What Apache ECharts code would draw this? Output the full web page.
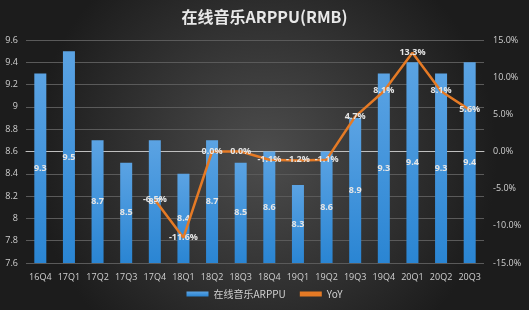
<!DOCTYPE html>
<html><head><meta charset="utf-8">
<script src="https://cdn.jsdelivr.net/npm/echarts@6/dist/echarts.min.js"></script>
<style>html,body{margin:0;padding:0;background:#222}#c{width:529px;height:310px}</style>
</head><body><div id="c"></div>
<script>
const categories = ['16Q4','17Q1','17Q2','17Q3','17Q4','18Q1','18Q2','18Q3','18Q4','19Q1','19Q2','19Q3','19Q4','20Q1','20Q2','20Q3'];
const arppu = [9.3,9.5,8.7,8.5,8.7,8.4,8.7,8.5,8.6,8.3,8.6,8.9,9.3,9.4,9.3,9.4];
const yoy = [null,null,null,null,-0.065,-0.116,0.0,0.0,-0.011,-0.012,-0.011,0.047,0.081,0.133,0.081,0.056];
const leftTicks = {min:7.6,max:9.6,interval:0.2};
const rightTicks = {min:-0.15,max:0.15,interval:0.05};
const font = '"Open Sans","Noto Sans CJK SC",sans-serif';
const chart = echarts.init(document.getElementById('c'));
chart.setOption({
  backgroundColor:{type:'radial',x:0.5,y:0.5,r:0.75,colorStops:[{offset:0,color:'#4d4d4d'},{offset:1,color:'#1c1c1c'}]},
  textStyle:{fontFamily:font},
  title:{text:'在线音乐ARPPU(RMB)',left:'center',top:4,textStyle:{color:'#e8e8e8',fontSize:16,fontWeight:'bold',fontFamily:'"Noto Sans CJK SC",sans-serif'}},
  grid:{left:26,right:45,top:40,bottom:47},
  legend:{bottom:6,itemWidth:22,itemHeight:5,itemGap:14,textStyle:{color:'#d0d0d0',fontSize:10,fontFamily:'"Noto Sans CJK SC",sans-serif'},
    data:[{name:'在线音乐ARPPU',icon:'rect'},{name:'YoY',icon:'rect',itemStyle:{color:'#e57a25'}}]},
  xAxis:{type:'category',data:categories,axisLine:{lineStyle:{color:'#bfbfbf',width:1}},axisTick:{show:false},
    axisLabel:{color:'#d0d0d0',fontSize:9,margin:10,interval:0}},
  yAxis:[
    {type:'value',min:leftTicks.min,max:leftTicks.max,interval:leftTicks.interval,
     axisLabel:{color:'#d0d0d0',fontSize:9,margin:8,formatter:v=>String(Math.round(v*10)/10)},
     axisLine:{show:false},axisTick:{show:false},splitLine:{lineStyle:{color:'#5a5a5a',width:1}}},
    {type:'value',min:rightTicks.min,max:rightTicks.max,interval:rightTicks.interval,
     axisLabel:{color:'#d0d0d0',fontSize:9,margin:9,formatter:v=>(v*100).toFixed(1)+'%'},
     axisLine:{show:false},axisTick:{show:false},splitLine:{show:false}}
  ],
  series:[
    {name:'在线音乐ARPPU',type:'bar',data:arppu,barWidth:12,
     itemStyle:{color:{type:'linear',x:0,y:0,x2:0,y2:1,colorStops:[{offset:0,color:'#5ba3e3'},{offset:1,color:'#2a85d3'}]}},
     label:{show:true,position:'inside',color:'#e6e6e6',fontSize:9,fontWeight:'bold',formatter:p=>p.value.toFixed(1)}},
    {name:'YoY',type:'line',yAxisIndex:1,data:yoy,symbol:'circle',symbolSize:1,showSymbol:true,connectNulls:false,
     lineStyle:{color:'#e57a25',width:2.5},itemStyle:{color:'#e57a25'},
     label:{show:true,position:'top',distance:0,verticalAlign:'middle',color:'#e6e6e6',fontSize:9,fontWeight:'bold',
       formatter:p=>p.value==null?'':(p.value*100).toFixed(1)+'%'}}
  ]
});
</script></body></html>
